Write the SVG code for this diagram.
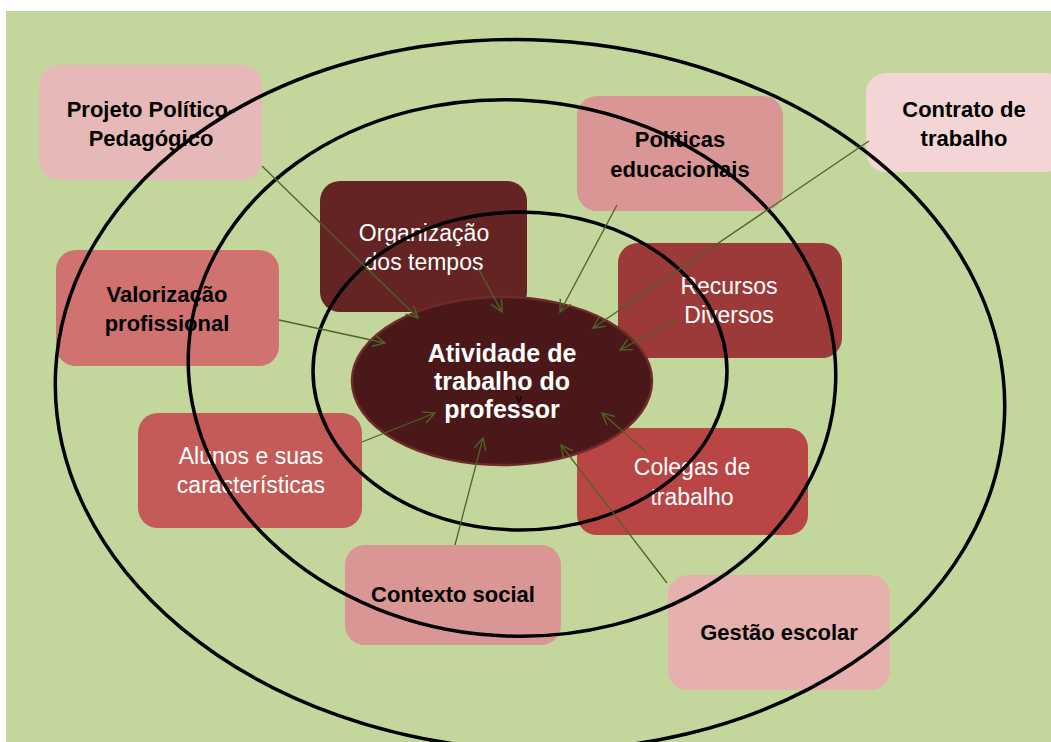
<svg xmlns="http://www.w3.org/2000/svg" width="1051" height="742" viewBox="0 0 1051 742">
<defs>
<marker id="arr" markerUnits="userSpaceOnUse" markerWidth="16" markerHeight="14" refX="12" refY="6" orient="auto">
<path d="M0,0 L12,6 L0,12" fill="none" stroke="#4f6228" stroke-width="1.4"/>
</marker>
<style>
.box{stroke:none}
.bl{font-family:"Liberation Sans",Arial,sans-serif;font-weight:bold;font-size:22px;fill:#000;text-anchor:middle}
.wt{font-family:"Liberation Sans",Arial,sans-serif;font-size:23px;fill:#fff;text-anchor:middle}
.ring{fill:none;stroke:#000;stroke-width:3.5}
.con{stroke:#4f6228;stroke-width:1.3;fill:none;marker-end:url(#arr)}
.ct{font-family:"Liberation Sans",Arial,sans-serif;font-weight:bold;font-size:25px;fill:#fff;text-anchor:middle}
</style>
</defs>
<rect x="0" y="0" width="1051" height="742" fill="#ffffff"/>
<rect x="6" y="11" width="1045" height="731" fill="#c3d69b"/>

<g id="projeto"><rect class="box" x="39" y="65" width="223" height="115" rx="20" fill="#e6b9b8"/>
<text class="bl" x="151" y="117">Projeto Político-</text><text class="bl" x="151" y="146">Pedagógico</text></g>
<g id="politicas"><rect class="box" x="577" y="96" width="206" height="115" rx="20" fill="#d99694"/>
<text class="bl" x="680" y="147">Políticas</text><text class="bl" x="680" y="177">educacionais</text></g>
<g id="contrato"><rect class="box" x="866" y="73" width="200" height="99" rx="20" fill="#f2d5d4"/>
<text class="bl" x="964" y="117">Contrato de</text><text class="bl" x="964" y="146">trabalho</text></g>
<g id="valorizacao"><rect class="box" x="56" y="250" width="223" height="116" rx="20" fill="#cf7270"/>
<text class="bl" x="167" y="302">Valorização</text><text class="bl" x="167" y="331">profissional</text></g>
<g id="organizacao"><rect class="box" x="320" y="181" width="207" height="131" rx="20" fill="#632423"/>
<text class="wt" x="424" y="241">Organização</text><text class="wt" x="424" y="270">dos tempos</text></g>
<g id="recursos"><rect class="box" x="618" y="243" width="224" height="115" rx="20" fill="#9b3a38"/>
<text class="wt" x="729" y="294">Recursos</text><text class="wt" x="729" y="323">Diversos</text></g>
<g id="alunos"><rect class="box" x="138" y="413" width="224" height="115" rx="20" fill="#c45b59"/>
<text class="wt" x="251" y="464">Alunos e suas</text><text class="wt" x="251" y="493">características</text></g>
<g id="colegas"><rect class="box" x="577" y="428" width="231" height="107" rx="20" fill="#b94645"/>
<text class="wt" x="692" y="475">Colegas de</text><text class="wt" x="692" y="505">trabalho</text></g>
<g id="contexto"><rect class="box" x="345" y="545" width="216" height="100" rx="20" fill="#d99694"/>
<text class="bl" x="453" y="602">Contexto social</text></g>
<g id="gestao"><rect class="box" x="668" y="575" width="222" height="115" rx="20" fill="#e5b0ae"/>
<text class="bl" x="779" y="640">Gestão escolar</text></g>

<g id="rings">
<ellipse class="ring" cx="530" cy="395" rx="475" ry="355" transform="rotate(3 530 395)"/>
<ellipse class="ring" cx="512" cy="368" rx="324" ry="268" transform="rotate(4 512 368)"/>
<ellipse class="ring" cx="520" cy="371" rx="207" ry="159"/>
</g>

<g id="atividade">
<ellipse cx="502" cy="381" rx="150" ry="84" fill="#4a1818" stroke="#6e2b2a" stroke-width="2.5"/>
<text class="ct" x="502" y="362">Atividade de</text>
<text class="ct" x="502" y="390">trabalho do</text>
<text class="ct" x="502" y="418">professor</text>
<text x="519" y="403" font-family="'Liberation Sans',Arial,sans-serif" font-size="12" fill="#000" text-anchor="middle">v</text>
</g>

<g id="connectors">
<line class="con" x1="262" y1="166" x2="418" y2="318"/>
<line class="con" x1="478" y1="268" x2="502" y2="312"/>
<line class="con" x1="617" y1="205" x2="560" y2="312"/>
<line class="con" x1="869" y1="141" x2="593" y2="328"/>
<line class="con" x1="676" y1="320" x2="620" y2="350"/>
<line class="con" x1="279" y1="320" x2="385" y2="343"/>
<line class="con" x1="362" y1="442" x2="435" y2="413"/>
<line class="con" x1="455" y1="545" x2="483" y2="438"/>
<line class="con" x1="667" y1="583" x2="561" y2="445"/>
<line class="con" x1="646" y1="452" x2="602" y2="413"/>
</g>
</svg>
